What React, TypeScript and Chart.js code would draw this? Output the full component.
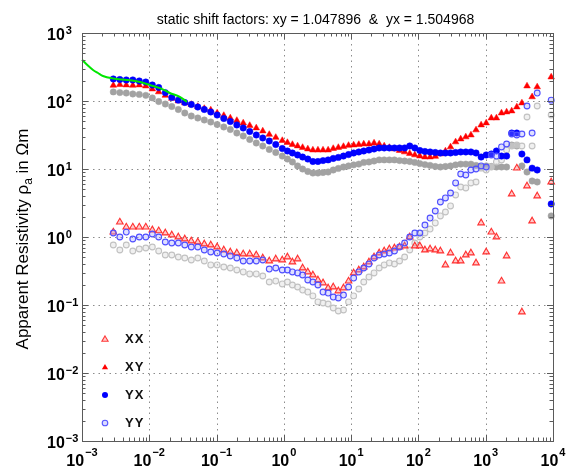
import React, { useEffect, useRef } from 'react';
import { Chart, registerables } from 'chart.js';

Chart.register(...registerables);

const TITLE = 'static shift factors: xy = 1.047896  &  yx = 1.504968';
const Y_LABEL_MAIN = 'Apparent Resistivity \u03c1';
const Y_LABEL_SUB = 'a';
const Y_LABEL_TAIL = ' in \u03a9m';

// periods (s)
const periods = [
  0.00292, 0.00365, 0.00455, 0.00569, 0.0071, 0.00887, 0.0111, 0.0138, 0.0173, 0.0216,
  0.027, 0.0337, 0.0421, 0.0526, 0.0657, 0.082, 0.102, 0.128, 0.16, 0.2,
  0.249, 0.311, 0.389, 0.486, 0.607, 0.758, 0.947,
  1.13, 1.34, 1.6, 1.9, 2.27, 2.7, 3.21, 3.82, 4.55, 5.42,
  6.45, 7.69, 9.15, 10.9, 13.0, 15.4, 18.4, 21.9, 26.1, 31.0,
  37, 44, 52.4, 62.4, 74.3, 88.4, 105, 125, 149, 178,
  212, 252, 300, 357, 425, 506, 603, 718, 855, 1017,
  1211, 1442, 1717, 2045, 2434, 2899, 3451, 4110, 4893, 5825,
  9400,
];

const xyValues = [
  170, 174, 172, 170, 172, 166, 150, 136, 121, 109,
  100, 93.5, 88.8, 83, 77.6, 73.7, 66.6, 61.2, 56.2, 51.7,
  47.5, 43.6, 40.1, 36.2, 32.2, 29.1, 26.2, 24.5, 22.9, 21.8,
  20.7, 19.7, 19, 19, 19, 19, 20, 20.7, 21.4, 22.2,
  22.5, 22.9, 23.3, 23.3, 24.1, 23.3, 21.8, 20.7, 19.7, 18.7,
  17.8, 16.9, 16.1, 15.5, 15, 15, 15.3, 16.6, 18.4, 21.1,
  25, 27.6, 29.6, 31.6, 37.5, 44.4, 47.5, 56.2, 56.2, 66.6,
  68.9, 71.3, 81.6, 93.5, 166, 115, 161, 225,
];

const yxValues = [
  211, 207, 204, 204, 197, 190, 172, 158, 133, 113,
  103, 95, 88.8, 81.6, 75, 68.9, 62.2, 55.3, 49.9, 44.4,
  40.1, 35.6, 31.6, 28.6, 25.8, 22.9, 20, 18.4, 17.2, 16.1,
  15, 14, 12.9, 12.9, 13.3, 13.6, 14.3, 14.8, 15.5, 16.3,
  17.2, 17.8, 18.4, 19, 19.7, 20.4, 20.4, 20.4, 20.4, 20.4,
  20.4, 21.8, 20.4, 18.7, 18.1, 17.8, 17.5, 17.2, 17.2, 17.2,
  17.5, 17.8, 17.8, 17.8, 17.2, 15, 16.1, 16.6, 18.4, 15.5,
  15.5, 33.8, 33.8, 16.6, 13.6, 10.3, 9.67, 3.06,
];

const rawFilledValues = [
  136, 133, 131, 127, 125, 121, 111, 98.3, 90.3, 83,
  75, 66.6, 60.2, 56.2, 52.6, 49.1, 45.1, 41.5, 38.1, 33.8,
  30.6, 27.2, 24.1, 21.8, 19.4, 17.5, 15.5, 14, 12.7, 11.1,
  10, 9.19, 8.73, 8.73, 8.88, 9.03, 9.67, 10.2, 10.7, 11.1,
  11.5, 11.8, 12.5, 12.7, 13.1, 13.6, 13.6, 13.6, 13.6, 13.3,
  13.1, 12.9, 12.5, 12, 11.6, 11.3, 10.9, 10.7, 10.9, 11.1,
  11.5, 11.8, 11.8, 11.8, 11.3, 10.7, 11.1, 10.9, 10.7, 10.7,
  10.7, 22.5, 21.8, 11.1, 9.03, 6.66, 6.44, 2.04,
];

const xxValues = [
  1.18, 1.66, 1.4, 1.4, 1.4, 1.4, 1.27, 1.23, 1.145, 1.07,
  1.0, 0.935, 0.873, 0.844, 0.789, 0.763, 0.713, 0.644, 0.602, 0.582,
  0.562, 0.562, 0.544, 0.491, 0.444, 0.475, 0.459, 0.508, 0.429, 0.475,
  0.35, 0.306, 0.276, 0.233, 0.211, 0.178, 0.184, 0.161, 0.178, 0.225,
  0.296, 0.327, 0.362, 0.429, 0.508, 0.582, 0.622, 0.666, 0.689, 0.713,
  0.737, 1.0, 0.737, 0.737, 0.644, 0.666, 0.644, 0.622, 0.388, 0.582,
  0.444, 0.444, 0.544, 0.582, 0.415, 1.61, 0.602, 1.18, 1.0, 0.225,
  0.526, 4.29, 10.3, 0.0789, 5.62, 1.72, 4.01, 6.44,
];

const yyValues = [
  1.145, 1.0, 1.18, 0.935, 1.0, 1.0, 1.107, 1.0, 0.844, 0.816,
  0.816, 0.763, 0.713, 0.713, 0.644, 0.602, 0.582, 0.562, 0.526, 0.491,
  0.444, 0.444, 0.444, 0.459, 0.338, 0.35, 0.327, 0.327, 0.306, 0.296,
  0.276, 0.233, 0.218, 0.197, 0.155, 0.15, 0.131, 0.127, 0.14, 0.184,
  0.249, 0.306, 0.35, 0.401, 0.491, 0.544, 0.562, 0.582, 0.622, 0.713,
  0.816, 1.0, 1.145, 1.145, 1.5, 1.9, 2.41, 3.27, 3.75, 4.44,
  6.23, 8.44, 8.16, 9.67, 10, 11.1, 10.7, 16.1, 15.5, 21.1,
  23.3, 32.7, 31.6, 32.7, 84.4, 33.8, 131, 103,
];

const rawOpenValues = [
  0.763, 0.644, 0.763, 0.622, 0.666, 0.689, 0.713, 0.622, 0.544, 0.544,
  0.508, 0.491, 0.459, 0.491, 0.444, 0.388, 0.388, 0.362, 0.35, 0.327,
  0.306, 0.286, 0.286, 0.267, 0.218, 0.225, 0.204, 0.218, 0.197, 0.184,
  0.166, 0.155, 0.136, 0.111, 0.107, 0.1035, 0.0903, 0.0816, 0.0844, 0.111,
  0.136, 0.172, 0.218, 0.258, 0.296, 0.35, 0.388, 0.415, 0.401, 0.444,
  0.508, 0.644, 0.816, 1.0, 1.145, 1.31, 1.61, 2.04, 2.33, 2.86,
  4.15, 5.44, 5.26, 6.23, 6.44, 10.3, 9.67, 10.7, 12.7, 13.6,
  19, 21.8, 22.5, 21.8, 58.2, 21.8, 84.4, 62.3,
];

const greenPeriods = [0.001, 0.0012, 0.00146, 0.00173, 0.00205, 0.0029, 0.0047, 0.0073, 0.0102, 0.0144, 0.0202, 0.0284, 0.0363];
const greenValues = [405, 338, 286, 258, 233, 214, 204, 190, 172, 155, 131, 115, 97];

const xExponents = [-3, -2, -1, 0, 1, 2, 3, 4];
const yExponents = [-3, -2, -1, 0, 1, 2, 3];
const legendLabels = ['XX', 'XY', 'YX', 'YY'];

const FONT = '"Liberation Sans", Arial, Helvetica, sans-serif';

function pts(xs: number[], vs: (number | null)[]) {
  const out: { x: number; y: number }[] = [];
  xs.forEach((p, i) => {
    const v = vs[i];
    if (v != null) out.push({ x: p, y: v });
  });
  return out;
}

function expText(e: number) {
  return e < 0 ? '\u2212' + Math.abs(e) : String(e);
}

function triPath(ctx: CanvasRenderingContext2D, cx: number, cy: number, r: number) {
  ctx.beginPath();
  ctx.moveTo(cx, cy - r);
  ctx.lineTo(cx + r * 0.866, cy + r * 0.5);
  ctx.lineTo(cx - r * 0.866, cy + r * 0.5);
  ctx.closePath();
}

const decorPlugin = {
  id: 'mtDecor',
  beforeDatasetsDraw(chart: any) {
    const { ctx, chartArea: a, scales } = chart;
    const xs = scales.x;
    const ys = scales.y;
    ctx.save();
    ctx.strokeStyle = '#8c8c8c';
    ctx.lineWidth = 1;
    ctx.setLineDash([1.5, 4]);
    xExponents.slice(1, -1).forEach((e) => {
      const px = Math.round(xs.getPixelForValue(Math.pow(10, e))) + 0.5;
      ctx.beginPath();
      ctx.moveTo(px, a.top);
      ctx.lineTo(px, a.bottom);
      ctx.stroke();
    });
    yExponents.slice(1, -1).forEach((e) => {
      const py = Math.round(ys.getPixelForValue(Math.pow(10, e))) + 0.5;
      ctx.beginPath();
      ctx.moveTo(a.left, py);
      ctx.lineTo(a.right, py);
      ctx.stroke();
    });
    ctx.restore();
  },
  afterDraw(chart: any) {
    const { ctx, chartArea: a, scales } = chart;
    const xs = scales.x;
    const ys = scales.y;
    ctx.save();
    // frame
    ctx.strokeStyle = '#5a5a5a';
    ctx.lineWidth = 1;
    ctx.setLineDash([]);
    ctx.strokeRect(Math.round(a.left) + 0.5, Math.round(a.top) + 0.5, Math.round(a.right - a.left), Math.round(a.bottom - a.top));

    // ticks
    ctx.beginPath();
    xExponents.forEach((e, i) => {
      const major = Math.round(xs.getPixelForValue(Math.pow(10, e))) + 0.5;
      ctx.moveTo(major, a.bottom);
      ctx.lineTo(major, a.bottom - 6);
      ctx.moveTo(major, a.top);
      ctx.lineTo(major, a.top + 6);
      if (i < xExponents.length - 1) {
        for (let m = 2; m <= 9; m++) {
          const px = Math.round(xs.getPixelForValue(m * Math.pow(10, e))) + 0.5;
          ctx.moveTo(px, a.bottom);
          ctx.lineTo(px, a.bottom - 3.5);
          ctx.moveTo(px, a.top);
          ctx.lineTo(px, a.top + 3.5);
        }
      }
    });
    yExponents.forEach((e, i) => {
      const major = Math.round(ys.getPixelForValue(Math.pow(10, e))) + 0.5;
      ctx.moveTo(a.left, major);
      ctx.lineTo(a.left + 6, major);
      ctx.moveTo(a.right, major);
      ctx.lineTo(a.right - 6, major);
      if (i < yExponents.length - 1) {
        for (let m = 2; m <= 9; m++) {
          const py = Math.round(ys.getPixelForValue(m * Math.pow(10, e))) + 0.5;
          ctx.moveTo(a.left, py);
          ctx.lineTo(a.left + 3.5, py);
          ctx.moveTo(a.right, py);
          ctx.lineTo(a.right - 3.5, py);
        }
      }
    });
    ctx.stroke();

    // tick labels
    ctx.fillStyle = '#000';
    ctx.textAlign = 'left';
    ctx.textBaseline = 'alphabetic';
    const baseFont = 'bold 16px ' + FONT;
    const expFont = 'bold 11px ' + FONT;
    xExponents.forEach((e) => {
      const px = xs.getPixelForValue(Math.pow(10, e));
      ctx.font = baseFont;
      const w1 = ctx.measureText('10').width;
      ctx.font = expFont;
      const w2 = ctx.measureText(expText(e)).width;
      const start = px - (w1 + w2 + 1) / 2;
      ctx.font = baseFont;
      ctx.fillText('10', start, 466);
      ctx.font = expFont;
      ctx.fillText(expText(e), start + w1 + 1, 455.5);
    });
    yExponents.forEach((e) => {
      const py = ys.getPixelForValue(Math.pow(10, e));
      ctx.font = baseFont;
      const w1 = ctx.measureText('10').width;
      ctx.fillText('10', 47, py + 7);
      ctx.font = expFont;
      ctx.fillText(expText(e), 47 + w1 + 1, py + 1);
    });

    // title
    ctx.font = '14px ' + FONT;
    ctx.textAlign = 'center';
    ctx.fillText(TITLE, (a.left + a.right) / 2 - 2, 24);

    // y axis label
    ctx.save();
    ctx.translate(28, 239);
    ctx.rotate(-Math.PI / 2);
    ctx.textAlign = 'left';
    const mainFont = '17px ' + FONT;
    const subFont = '12px ' + FONT;
    ctx.font = mainFont;
    const wa = ctx.measureText(Y_LABEL_MAIN).width;
    const wc = ctx.measureText(Y_LABEL_TAIL).width;
    ctx.font = subFont;
    const wb = ctx.measureText(Y_LABEL_SUB).width;
    let cur = -(wa + wb + wc) / 2;
    ctx.font = mainFont;
    ctx.fillText(Y_LABEL_MAIN, cur, 0);
    cur += wa;
    ctx.font = subFont;
    ctx.fillText(Y_LABEL_SUB, cur, 4);
    cur += wb;
    ctx.font = mainFont;
    ctx.fillText(Y_LABEL_TAIL, cur, 0);
    ctx.restore();

    // legend
    const ly = [339, 367, 395, 423];
    const lx = 105;
    ctx.font = 'bold 13px ' + FONT;
    ctx.textAlign = 'left';
    ctx.textBaseline = 'middle';
    try { (ctx as any).letterSpacing = '1px'; } catch (err) { /* ignore */ }
    legendLabels.forEach((lab, i) => {
      const y = ly[i];
      if (i === 0) {
        triPath(ctx, lx, y + 0.5, 3.6);
        ctx.fillStyle = 'rgba(255,150,150,0.45)';
        ctx.fill();
        ctx.strokeStyle = '#ff3a3a';
        ctx.lineWidth = 1.1;
        ctx.stroke();
      } else if (i === 1) {
        triPath(ctx, lx, y + 0.5, 3.6);
        ctx.fillStyle = '#ff0000';
        ctx.fill();
      } else if (i === 2) {
        ctx.beginPath();
        ctx.arc(lx, y, 3, 0, Math.PI * 2);
        ctx.fillStyle = '#0000ff';
        ctx.fill();
      } else {
        ctx.beginPath();
        ctx.arc(lx, y, 2.8, 0, Math.PI * 2);
        ctx.fillStyle = 'rgba(150,150,255,0.35)';
        ctx.fill();
        ctx.strokeStyle = '#5555ff';
        ctx.lineWidth = 1.1;
        ctx.stroke();
      }
      ctx.fillStyle = '#111';
      ctx.fillText(lab, 125, y + 0.5);
    });
    ctx.restore();
  },
};

export default function App() {
  const ref = useRef<HTMLCanvasElement | null>(null);

  useEffect(() => {
    if (!ref.current) return;
    const chart = new Chart(ref.current, {
      type: 'scatter',
      data: {
        datasets: [
          {
            label: 'model',
            data: pts(greenPeriods, greenValues),
            showLine: true,
            borderColor: '#00e600',
            borderWidth: 2,
            pointRadius: 0,
            cubicInterpolationMode: 'monotone',
            order: 0,
            clip: false,
          } as any,
          {
            label: 'YY',
            data: pts(periods, yyValues),
            pointStyle: 'circle',
            pointRadius: 2.9,
            backgroundColor: 'rgba(150,150,255,0.3)',
            borderColor: '#5050ff',
            borderWidth: 1.1,
            order: 1,
            clip: false,
          },
          {
            label: 'YX',
            data: pts(periods, yxValues),
            pointStyle: 'circle',
            pointRadius: 3.2,
            backgroundColor: '#0000ff',
            borderColor: '#0000ff',
            borderWidth: 0.5,
            order: 2,
            clip: false,
          },
          {
            label: 'XY',
            data: pts(periods, xyValues),
            pointStyle: 'triangle',
            pointRadius: 3.8,
            backgroundColor: '#ff0000',
            borderColor: '#ff0000',
            borderWidth: 0.5,
            order: 3,
            clip: false,
          },
          {
            label: 'XX',
            data: pts(periods, xxValues),
            pointStyle: 'triangle',
            pointRadius: 3.8,
            backgroundColor: 'rgba(255,150,150,0.5)',
            borderColor: '#ff3030',
            borderWidth: 1.1,
            order: 4,
            clip: false,
          },
          {
            label: 'raw open',
            data: pts(periods, rawOpenValues),
            pointStyle: 'circle',
            pointRadius: 2.9,
            backgroundColor: 'rgba(225,225,225,0.5)',
            borderColor: '#c2c2c2',
            borderWidth: 1.1,
            order: 5,
            clip: false,
          },
          {
            label: 'raw filled',
            data: pts(periods, rawFilledValues),
            pointStyle: 'circle',
            pointRadius: 3.2,
            backgroundColor: '#a2a2a2',
            borderColor: '#a2a2a2',
            borderWidth: 0.5,
            order: 6,
            clip: false,
          },
        ],
      },
      options: {
        animation: false,
        responsive: false,
        devicePixelRatio: 1,
        events: [],
        layout: { padding: { left: 82, top: 33, right: 18, bottom: 27 } },
        plugins: {
          legend: { display: false },
          tooltip: { enabled: false },
          title: { display: false },
        },
        scales: {
          x: { type: 'logarithmic', min: 0.001, max: 10000, display: false },
          y: { type: 'logarithmic', min: 0.001, max: 1000, display: false },
        },
      },
      plugins: [decorPlugin],
    } as any);
    return () => chart.destroy();
  }, []);

  return (
    <div style={{ position: 'fixed', left: 0, top: 0, width: 571, height: 468, background: '#fff' }}>
      <canvas ref={ref} width={571} height={468} style={{ display: 'block', width: 571, height: 468 }} />
    </div>
  );
}
